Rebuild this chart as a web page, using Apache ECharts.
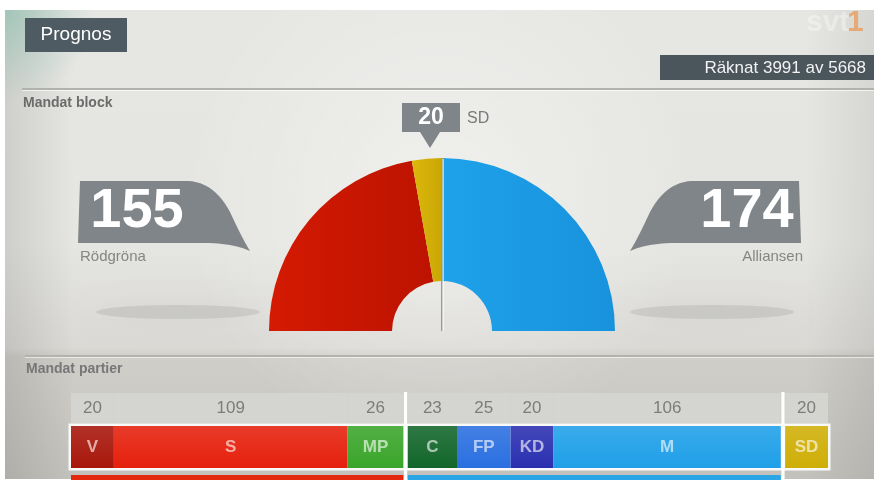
<!DOCTYPE html>
<html><head><meta charset="utf-8">
<script src="https://cdn.jsdelivr.net/npm/echarts@6/dist/echarts.min.js"></script>
<style>html,body{margin:0;padding:0;background:#fff}#c{width:874px;height:482px}</style>
</head><body><div id="c"></div>
<script>
// ---- data ----
const parties = ['V', 'S', 'MP', 'C', 'FP', 'KD', 'M', 'SD'];
const partySeats = [20, 109, 26, 23, 25, 20, 106, 20];
const partyColors = ['#a8160b', '#e5200c', '#3aa52a', '#12662a', '#2a6fe0', '#2a2fb0', '#1f9fe8', '#cfae06'];
const groupEndIdx = [2, 6];           // a divider follows these parties
const blockNames = ['Rödgröna', 'SD', 'Alliansen'];
const blockSeats = [155, 20, 174];
const countedText = 'Räknat 3991 av 5668';
const GAP = 2;

const FONT = '"Liberation Sans", Arial, Helvetica, sans-serif';
const chart = echarts.init(document.getElementById('c'));

const segs = [];
partySeats.forEach((v, i) => {
  segs.push({ name: parties[i], value: v, color: partyColors[i] });
  if (groupEndIdx.includes(i)) segs.push({ gap: true, value: GAP });
});
const totalW = segs.reduce((a, s) => a + s.value, 0);

const strip = [
  { value: blockSeats[0], color: '#e3280e' },
  { value: GAP, color: 'rgba(0,0,0,0)' },
  { value: blockSeats[2], color: '#2aa6e6' },
  { value: GAP, color: 'rgba(0,0,0,0)' },
  { value: blockSeats[1], color: 'rgba(0,0,0,0)' }
];

function lg(c1, c2, vertical) {
  return new echarts.graphic.LinearGradient(0, 0, vertical ? 0 : 1, vertical ? 1 : 0,
    [{ offset: 0, color: c1 }, { offset: 1, color: c2 }]);
}
function lighten(hex, amt) {
  const n = parseInt(hex.slice(1), 16);
  let r = (n >> 16) & 255, g = (n >> 8) & 255, b = n & 255;
  r = Math.min(255, Math.round(r + (255 - r) * amt));
  g = Math.min(255, Math.round(g + (255 - g) * amt));
  b = Math.min(255, Math.round(b + (255 - b) * amt));
  return 'rgb(' + r + ',' + g + ',' + b + ')';
}
function outline(cmds) {
  const pts = [];
  let cur = null;
  cmds.forEach(c => {
    if (c[0] === 'L') { pts.push([c[1], c[2]]); cur = [c[1], c[2]]; }
    else {
      for (let t = 1; t <= 12; t++) {
        const u = t / 12, a = (1 - u) * (1 - u), b = 2 * u * (1 - u), d = u * u;
        pts.push([a * cur[0] + b * c[1] + d * c[3], a * cur[1] + b * c[2] + d * c[4]]);
      }
      cur = [c[3], c[4]];
    }
  });
  return pts;
}

const grids = [
  { left: 71, right: 46, top: 393, height: 30 },
  { left: 71, right: 46, top: 426, height: 42 },
  { left: 71, right: 46, top: 475, height: 5 }
];
const xAxes = grids.map((g, i) => ({ type: 'value', gridIndex: i, min: 0, max: i === 2 ? strip.reduce((a, s) => a + s.value, 0) : totalW, show: false }));
const yAxes = grids.map((g, i) => ({ type: 'category', gridIndex: i, data: ['m'], show: false }));

const series = [];
segs.forEach(s => {
  series.push({
    type: 'bar', xAxisIndex: 0, yAxisIndex: 0, stack: 'lab', barWidth: '100%', silent: true,
    data: [s.value],
    itemStyle: { color: s.gap ? 'rgba(0,0,0,0)' : '#d4d4d0' },
    label: { show: !s.gap, position: 'inside', formatter: String(s.value), color: '#7c7c7c', fontSize: 17, fontFamily: FONT }
  });
  series.push({
    type: 'bar', xAxisIndex: 1, yAxisIndex: 1, stack: 'bar', barWidth: '100%', silent: true,
    data: [s.value],
    itemStyle: { color: s.gap ? 'rgba(0,0,0,0)' : lg(lighten(s.color, 0.12), s.color, true) },
    label: { show: !s.gap, position: 'inside', formatter: s.name || '', color: 'rgba(255,255,255,0.62)', fontSize: 17, fontWeight: 'bold', fontFamily: FONT }
  });
});
strip.forEach(s => {
  series.push({
    type: 'bar', xAxisIndex: 2, yAxisIndex: 2, stack: 'strip', barWidth: '100%', silent: true,
    data: [s.value], itemStyle: { color: s.color }, label: { show: false }
  });
});

const pieTotal = blockSeats.reduce((a, b) => a + b, 0);
series.push({
  type: 'pie', center: [442, 331], radius: [50, 173], startAngle: 180, silent: true,
  label: { show: false }, labelLine: { show: false },
  data: [
    { name: blockNames[0], value: blockSeats[0], itemStyle: { color: lg('#d41a02', '#bc1300', false) } },
    { name: blockNames[1], value: blockSeats[1], itemStyle: { color: lg('#dcb80c', '#c9a604', false) } },
    { name: blockNames[2], value: blockSeats[2], itemStyle: { color: lg('#1ea2ea', '#1892dc', false) } },
    { name: '', value: pieTotal, itemStyle: { color: 'rgba(0,0,0,0)' } }
  ]
});

const leftShape = outline([['L', 80, 181], ['L', 188, 181], ['Q', 214, 182, 230, 212], ['Q', 242, 238, 250, 251], ['Q', 232, 243, 205, 243], ['L', 78, 243]]);
const rightShape = outline([['L', 799, 181], ['L', 692, 181], ['Q', 666, 182, 650, 212], ['Q', 638, 238, 630, 251], ['Q', 648, 243, 675, 243], ['L', 801, 243]]);

const bg = [
  { type: 'rect', z: -20, shape: { x: 5, y: 10, width: 869, height: 469 },
    style: { fill: new echarts.graphic.LinearGradient(0, 0, 0, 1, [
      { offset: 0, color: '#e6e6e3' }, { offset: 0.5, color: '#e5e5e1' },
      { offset: 0.72, color: '#dad9d5' }, { offset: 0.74, color: '#cfcec9' }, { offset: 1, color: '#c2c1bc' }]) } },
  { type: 'rect', z: -19, shape: { x: 5, y: 10, width: 869, height: 469 },
    style: { fill: new echarts.graphic.RadialGradient(0.5, 0.4, 0.55, [
      { offset: 0, color: 'rgba(255,255,255,0.4)' }, { offset: 1, color: 'rgba(255,255,255,0)' }]) } },
  { type: 'rect', z: -18, shape: { x: 5, y: 10, width: 869, height: 469 },
    style: { fill: new echarts.graphic.LinearGradient(0, 0, 1, 0, [
      { offset: 0, color: 'rgba(0,0,0,0.10)' }, { offset: 0.08, color: 'rgba(0,0,0,0)' },
      { offset: 0.92, color: 'rgba(0,0,0,0)' }, { offset: 1, color: 'rgba(0,0,0,0.07)' }]) } },
  { type: 'rect', z: -17, shape: { x: 5, y: 10, width: 200, height: 150 },
    style: { fill: new echarts.graphic.RadialGradient(0, 0, 0.6, [
      { offset: 0, color: 'rgba(110,185,160,0.45)' }, { offset: 1, color: 'rgba(110,185,160,0)' }]) } },
  { type: 'rect', z: -10, shape: { x: 22, y: 88, width: 852, height: 2 }, style: { fill: '#b2b2ad' } },
  { type: 'rect', z: -10, shape: { x: 22, y: 90, width: 852, height: 1 }, style: { fill: 'rgba(255,255,255,0.7)' } },
  { type: 'rect', z: -10, shape: { x: 25, y: 355, width: 849, height: 2 }, style: { fill: '#b3b2ad' } },
  { type: 'rect', z: -10, shape: { x: 25, y: 357, width: 849, height: 1 }, style: { fill: 'rgba(255,255,255,0.6)' } },
  { type: 'text', z: 10, style: { text: 'svt', x: 806, y: 23, verticalAlign: 'middle', font: 'bold 30px ' + FONT, fill: 'rgba(255,255,255,0.35)' } },
  { type: 'text', z: 10, style: { text: '1', x: 847, y: 23, verticalAlign: 'middle', font: 'bold 30px ' + FONT, fill: 'rgba(240,130,40,0.55)' } },
  { type: 'rect', z: 10, shape: { x: 25, y: 18, width: 102, height: 34 }, style: { fill: '#4e5b63' } },
  { type: 'text', z: 11, style: { text: 'Prognos', x: 76, y: 35, align: 'center', verticalAlign: 'middle', font: '19px ' + FONT, fill: '#ffffff' } },
  { type: 'rect', z: 10, shape: { x: 660, y: 55, width: 214, height: 25 }, style: { fill: '#4a555c' } },
  { type: 'text', z: 11, style: { text: countedText, x: 866, y: 68, align: 'right', verticalAlign: 'middle', font: '17px ' + FONT, fill: '#f2f2f2' } },
  { type: 'text', z: 10, style: { text: 'Mandat block', x: 23, y: 103, verticalAlign: 'middle', font: 'bold 14px ' + FONT, fill: '#6c6c6c' } },
  { type: 'text', z: 10, style: { text: 'Mandat partier', x: 26, y: 369, verticalAlign: 'middle', font: 'bold 14px ' + FONT, fill: '#777' } },
  { type: 'ellipse', z: -5, shape: { cx: 178, cy: 312, rx: 82, ry: 7 }, style: { fill: 'rgba(0,0,0,0.08)', shadowBlur: 22, shadowColor: 'rgba(0,0,0,0.35)' } },
  { type: 'ellipse', z: -5, shape: { cx: 712, cy: 312, rx: 82, ry: 7 }, style: { fill: 'rgba(0,0,0,0.08)', shadowBlur: 22, shadowColor: 'rgba(0,0,0,0.35)' } },
  { type: 'polygon', z: 10, shape: { points: leftShape }, style: { fill: '#7f8588' } },
  { type: 'text', z: 11, style: { text: String(blockSeats[0]), x: 137, y: 212, align: 'center', verticalAlign: 'middle', font: 'bold 56px ' + FONT, fill: '#ffffff' } },
  { type: 'text', z: 11, style: { text: blockNames[0], x: 80, y: 257, verticalAlign: 'middle', font: '15px ' + FONT, fill: '#858585' } },
  { type: 'polygon', z: 10, shape: { points: rightShape }, style: { fill: '#7f8588' } },
  { type: 'text', z: 11, style: { text: String(blockSeats[2]), x: 747, y: 212, align: 'center', verticalAlign: 'middle', font: 'bold 56px ' + FONT, fill: '#ffffff' } },
  { type: 'text', z: 11, style: { text: blockNames[2], x: 803, y: 257, align: 'right', verticalAlign: 'middle', font: '15px ' + FONT, fill: '#858585' } },
  { type: 'polygon', z: 10, shape: { points: [[402, 103], [460, 103], [460, 132], [440, 132], [430, 148], [420, 132], [402, 132]] }, style: { fill: '#7f8588' } },
  { type: 'text', z: 11, style: { text: String(blockSeats[1]), x: 431, y: 118, align: 'center', verticalAlign: 'middle', font: 'bold 23px ' + FONT, fill: '#ffffff' } },
  { type: 'text', z: 11, style: { text: blockNames[1], x: 467, y: 119, verticalAlign: 'middle', font: '16px ' + FONT, fill: '#7a7a7a' } },
  { type: 'rect', z: 10, shape: { x: 441, y: 159, width: 1.5, height: 172 }, style: { fill: '#9a9a9a' } },
  { type: 'rect', z: 10, shape: { x: 442.5, y: 159, width: 1.5, height: 172 }, style: { fill: 'rgba(255,255,255,0.6)' } }
];

chart.setOption({
  animation: false,
  backgroundColor: '#ffffff',
  grid: grids, xAxis: xAxes, yAxis: yAxes, series: series,
  graphic: bg
});

const extra = [];
const px = v => chart.convertToPixel({ xAxisIndex: 1 }, v);
extra.push({ type: 'rect', z: 1, shape: { x: px(0) - 2.5, y: 423.5, width: px(totalW) - px(0) + 5, height: 47 }, style: { fill: 'rgba(255,255,255,0.9)' } });
let cum = 0;
segs.forEach(s => {
  if (s.gap) {
    const a = px(cum), b = px(cum + s.value);
    extra.push({ type: 'rect', z: 12, shape: { x: a + 0.5, y: 392, width: b - a - 1, height: 87 }, style: { fill: '#ffffff' } });
  }
  cum += s.value;
});
chart.setOption({ graphic: bg.concat(extra) });
</script></body></html>
